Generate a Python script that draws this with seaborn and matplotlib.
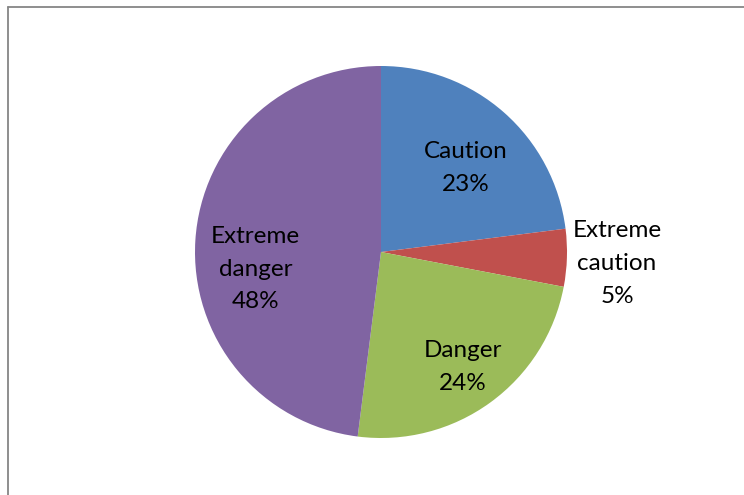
import numpy as np
import matplotlib
matplotlib.use("Agg")
import matplotlib.pyplot as plt
import matplotlib.transforms as mtransforms
import seaborn as sns
from matplotlib.lines import Line2D

sns.set_theme(style="white")
plt.rcParams['font.family'] = ['Lato', 'DejaVu Sans']

# data
categories = ["Caution", "Extreme\ncaution", "Danger", "Extreme\ndanger"]
values = [23, 5, 24, 48]
colors = ["#4F81BD", "#C0504D", "#9BBB59", "#8064A2"]

# layout: label radial distance (fraction of radius) and angular shift (deg)
label_dist = [0.65, 1.27, 0.75, 0.68]
label_shift = [-3.4, -0.5, 0.0, 10.6]

W, H = 744, 495
fig = plt.figure(figsize=(W / 100, H / 100), dpi=100)
fig.patch.set_facecolor("white")

cx, cy, r = 381, 252, 186
ax = fig.add_axes([(cx - r) / W, (H - cy - r) / H, 2 * r / W, 2 * r / H])
wedges, _ = ax.pie(values, colors=colors, startangle=90, counterclock=False,
                   radius=1.0, wedgeprops=dict(linewidth=0))
ax.set_xlim(-1, 1)
ax.set_ylim(-1, 1)
ax.set_aspect("equal")
ax.axis("off")

nudge = ax.transData + mtransforms.ScaledTranslation(0, -2 / 100, fig.dpi_scale_trans)

total = sum(values)
for w, cat, v, d, s in zip(wedges, categories, values, label_dist, label_shift):
    ang = np.deg2rad((w.theta1 + w.theta2) / 2 + s)
    x, y = d * np.cos(ang), d * np.sin(ang)
    ax.text(x, y, f"{cat}\n{round(100 * v / total)}%", ha="center", va="center",
            fontsize=17.5, color="black", linespacing=1.68, clip_on=False,
            transform=nudge)

# chart frame (top and left edges visible)
fig.add_artist(Line2D([7.5 / W, 1], [1 - 6.5 / H, 1 - 6.5 / H], transform=fig.transFigure,
                      color="#868686", linewidth=1.3))
fig.add_artist(Line2D([7.5 / W, 7.5 / W], [0, 1 - 6.5 / H], transform=fig.transFigure,
                      color="#868686", linewidth=1.3))

fig.savefig("out.png", dpi=100, facecolor="white")
